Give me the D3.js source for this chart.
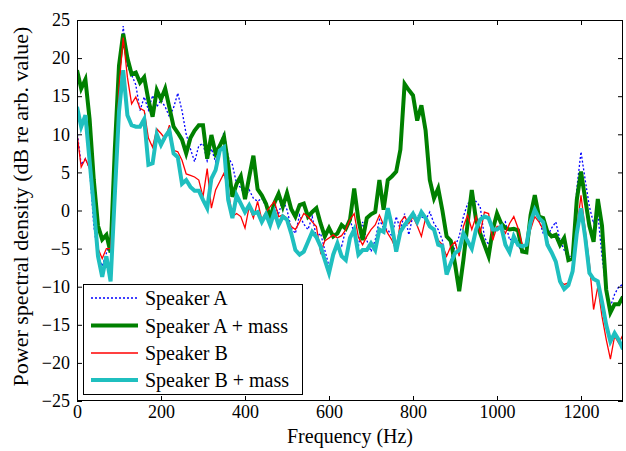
<!DOCTYPE html>
<html>
<head>
<meta charset="utf-8">
<script src="https://cdn.jsdelivr.net/npm/d3@7"></script>
<style>
html,body{margin:0;padding:0;background:#fff;}
svg{display:block;}
svg text{font-family:"Liberation Serif","Times New Roman",Times,"DejaVu Serif",serif !important;fill:#000;}
</style>
</head>
<body>
<svg id="chart" width="626" height="451"></svg>
<script>
// Frequency grid (Hz), 10 Hz spacing 0..1300
const freqStep = 10;
const freqs = d3.range(0, 1301, freqStep);

const xTicks = [0, 200, 400, 600, 800, 1000, 1200];
const yTicks = [-25, -20, -15, -10, -5, 0, 5, 10, 15, 20, 25];

const seriesNames = ["Speaker A", "Speaker A + mass", "Speaker B", "Speaker B + mass"];

const speakerA = [
10.5,6.0,6.8,5.5,-2.0,-6.0,-7.3,-5.6,-4.0,4.0,
16.5,24.2,19.0,17.8,16.5,13.1,14.9,13.2,15.1,13.6,
14.5,13.6,12.3,13.5,15.4,13.1,10.0,8.1,6.4,8.5,
8.8,6.5,8.1,6.4,8.3,10.3,7.0,6.0,3.5,3.0,
1.8,2.7,1.6,1.2,1.6,0.5,-0.4,0.7,-0.4,1.4,
0.1,-2.3,-3.0,-0.6,-1.8,-2.5,-0.8,-3.5,-3.0,-5.2,
-7.3,-6.0,-4.5,-4.7,-2.5,-1.2,-3.0,-4.7,-1.5,-3.9,
-5.4,-3.9,-1.2,-2.3,-2.5,-3.4,-0.8,-2.5,-0.4,-3.2,
-0.6,-0.6,-0.8,-1.2,-0.2,-1.7,-2.5,-3.9,-8.3,-6.5,
-4.7,-3.4,-0.8,0.9,1.2,1.2,0.5,-3.5,-4.5,-3.0,
-2.3,-2.1,-1.5,-3.9,-3.5,-4.7,-5.2,-4.9,-1.0,0.1,
-1.2,-3.0,-3.4,-2.3,-1.5,-3.9,-5.2,-6.3,-5.6,2.9,
7.7,4.0,0.5,-1.7,-0.4,-6.0,-10.4,-12.6,-11.0,-10.0,
-9.7];

const speakerAMass = [
18.4,16.0,17.2,12.0,4.0,-2.0,-3.8,-3.2,-5.5,8.0,
19.0,23.2,20.0,17.9,18.1,16.8,17.5,14.5,12.3,15.8,
14.6,16.0,13.5,11.0,10.2,9.3,7.5,9.5,10.5,11.2,
11.2,6.8,9.9,7.5,8.5,9.7,6.0,1.8,3.5,4.5,
1.5,4.4,7.2,2.8,2.0,0.9,-1.0,1.0,2.2,0.5,
2.3,0.2,-0.8,0.7,0.9,-0.8,-0.2,0.3,-1.7,-3.4,
-2.3,-3.4,-3.0,-1.9,-2.4,-1.2,2.9,-1.2,-3.9,-1.0,
-0.5,-0.2,4.0,0.1,4.0,4.5,5.1,8.0,16.6,15.8,
15.1,11.8,13.8,10.5,4.0,1.6,2.9,0.0,-3.4,-4.0,
-7.0,-10.6,-6.5,-1.7,2.7,-1.2,-3.0,-4.5,-6.0,-2.5,
-0.4,-1.7,-2.3,-2.5,-2.4,-2.6,-5.4,-5.5,-0.6,2.0,
-0.8,-1.0,-2.8,-3.4,-3.2,-4.5,-3.6,-6.5,-6.3,1.4,
5.1,1.5,-2.0,-4.1,1.5,-2.0,-10.4,-13.4,-12.3,-12.3,
-11.3];

const speakerB = [
10.1,5.7,6.8,5.5,1.0,-5.0,-6.3,-5.0,-5.0,2.5,
16.2,22.7,17.5,14.0,14.9,13.4,13.1,9.5,8.3,10.7,
10.1,9.4,11.2,7.9,7.7,6.6,4.8,4.6,4.4,4.0,
1.8,5.5,0.3,2.7,3.8,4.9,2.7,-0.8,-0.4,-0.8,
-2.3,0.5,-1.0,1.2,-1.2,-0.2,0.5,1.2,-0.8,-0.6,
-1.0,-2.1,-2.5,-1.5,-0.4,-0.8,-1.5,-2.1,-5.5,-4.0,
-3.6,-3.2,-3.6,-3.3,-2.5,-1.2,-0.4,-3.5,-4.5,-3.4,
-2.5,-1.9,-0.6,-1.9,-3.0,-3.9,-5.2,-1.5,-0.8,-1.7,
-0.8,-2.0,-3.4,-1.0,-1.9,-2.5,-3.9,-4.5,-6.0,-4.7,
-4.1,-6.0,-2.1,-0.6,-2.5,-0.8,-3.0,-0.2,-0.4,-3.9,
-2.1,-2.1,-3.0,-1.7,-0.8,-2.3,-4.5,-4.5,-2.5,-0.8,
-1.5,-2.5,-4.0,-5.5,-6.5,-9.3,-9.7,-9.5,-7.8,-2.5,
2.0,-2.5,-6.9,-13.0,-10.0,-13.9,-16.9,-19.5,-16.5,-17.4,
-16.3];

const speakerBMass = [
13.6,11.0,12.5,6.5,0.5,-6.0,-8.7,-6.0,-9.3,2.0,
13.0,18.4,12.5,11.2,11.0,11.0,12.0,6.0,6.2,10.0,
8.6,9.7,10.5,7.5,7.0,3.5,4.0,3.1,2.6,2.6,
1.4,0.3,4.2,5.3,7.9,8.3,1.4,-1.0,2.0,0.9,
-0.2,0.7,-0.4,-0.2,-1.5,-0.5,-1.9,-0.2,-1.9,-0.8,
-1.2,-3.0,-5.2,-5.8,-5.4,-4.1,-2.8,-3.5,-4.7,-6.5,
-8.2,-5.8,-4.3,-6.0,-6.5,-3.6,-2.5,-5.8,-5.2,-5.2,
-4.3,-5.2,-2.5,-2.8,0.3,-2.1,-5.4,-2.8,-1.9,-1.2,
-0.4,-1.5,-0.2,-1.0,-2.1,-2.5,-4.5,-4.7,-8.4,-6.9,
-5.6,-5.2,-3.0,-4.0,-5.0,-2.5,-1.2,-0.8,-1.0,-2.5,
-2.5,-2.1,-4.5,-5.5,-3.4,-4.5,-4.7,-4.5,-1.5,0.1,
-1.0,-1.5,-4.5,-5.5,-6.7,-9.3,-10.3,-9.8,-8.0,-3.0,
0.3,-3.5,-8.2,-9.0,-9.3,-12.0,-15.0,-17.2,-16.1,-17.0,
-18.2];

const W = 626, H = 451;
const margin = {left: 77, right: 3, top: 20, bottom: 50};
const svg = d3.select("#chart");
const FONT = "'Liberation Serif','Times New Roman',Times,'DejaVu Serif',serif";

const x = d3.scaleLinear().domain([0, 1300]).range([margin.left, W - margin.right]);
const y = d3.scaleLinear().domain([-25, 25]).range([H - margin.bottom, margin.top]);

svg.append("defs").append("clipPath").attr("id", "plotclip")
  .append("rect")
  .attr("x", margin.left).attr("y", margin.top)
  .attr("width", W - margin.left - margin.right)
  .attr("height", H - margin.top - margin.bottom);

const styles = [
  {data: speakerA, color: "#0000ff", width: 1.3, dash: "2,2"},
  {data: speakerAMass, color: "#008000", width: 4, dash: null},
  {data: speakerB, color: "#ff0000", width: 1.3, dash: null},
  {data: speakerBMass, color: "#1fbfbf", width: 4, dash: null}
];

const line = d3.line().x((d, i) => x(freqs[i])).y(d => y(d));

const g = svg.append("g").attr("clip-path", "url(#plotclip)");
styles.forEach(s => {
  g.append("path")
    .datum(s.data)
    .attr("d", line)
    .attr("fill", "none")
    .attr("stroke", s.color)
    .attr("stroke-width", s.width)
    .attr("stroke-linejoin", "miter")
    .attr("stroke-dasharray", s.dash);
});

// Axes (ticks inward, MATLAB style)
const tickLen = 5;
const fs = 18;
const fmt = d3.format("d");
const xAxisB = d3.axisBottom(x).tickValues(xTicks).tickFormat(fmt).tickSizeInner(-tickLen).tickSizeOuter(0).tickPadding(4);
const xAxisT = d3.axisTop(x).tickValues(xTicks).tickSizeInner(-tickLen).tickSizeOuter(0).tickFormat("");
const yAxisL = d3.axisLeft(y).tickValues(yTicks).tickFormat(fmt).tickSizeInner(-tickLen).tickSizeOuter(0).tickPadding(7);
const yAxisR = d3.axisRight(y).tickValues(yTicks).tickSizeInner(-tickLen).tickSizeOuter(0).tickFormat("");

function styleAxis(sel) {
  sel.attr("font-family", FONT).attr("font-size", fs);
  sel.select(".domain").remove();
  sel.selectAll("line").attr("stroke", "#000").attr("stroke-width", 1);
  sel.selectAll("text").style("font-family", FONT).style("font-size", fs + "px").attr("fill", "#000");
}
svg.append("g").attr("transform", `translate(0,${H - margin.bottom})`).call(xAxisB).call(styleAxis);
svg.append("g").attr("transform", `translate(0,${margin.top})`).call(xAxisT).call(styleAxis);
svg.append("g").attr("transform", `translate(${margin.left},0)`).call(yAxisL).call(styleAxis);
svg.append("g").attr("transform", `translate(${W - margin.right},0)`).call(yAxisR).call(styleAxis);

// Box
svg.append("rect")
  .attr("x", margin.left + 0.5).attr("y", margin.top + 0.5)
  .attr("width", W - margin.left - margin.right - 1)
  .attr("height", H - margin.top - margin.bottom - 1)
  .attr("fill", "none").attr("stroke", "#000").attr("stroke-width", 1);

// Axis titles
svg.append("text")
  .attr("x", (margin.left + W - margin.right) / 2)
  .attr("y", 443)
  .attr("text-anchor", "middle")
  .style("font-family", FONT).style("font-size", "20px")
  .text("Frequency (Hz)");

svg.append("text")
  .attr("transform", `translate(28,${(margin.top + H - margin.bottom) / 2 - 4}) rotate(-90)`)
  .attr("text-anchor", "middle")
  .style("font-family", FONT).style("font-size", "22px")
  .text("Power spectral density (dB re arb. value)");

// Legend
const leg = svg.append("g");
leg.append("rect")
  .attr("x", 83.5).attr("y", 284.5).attr("width", 219).attr("height", 110)
  .attr("fill", "#fff").attr("stroke", "#000").attr("stroke-width", 1);
const rowY = [298, 325.5, 353, 380];
styles.forEach((s, i) => {
  leg.append("line")
    .attr("x1", 91).attr("x2", 138)
    .attr("y1", rowY[i]).attr("y2", rowY[i])
    .attr("stroke", s.color).attr("stroke-width", s.width)
    .attr("stroke-dasharray", s.dash);
  leg.append("text")
    .attr("x", 145).attr("y", rowY[i])
    .attr("dy", "0.35em")
    .style("font-family", FONT).style("font-size", "20px")
    .text(seriesNames[i]);
});
</script>
</body>
</html>
